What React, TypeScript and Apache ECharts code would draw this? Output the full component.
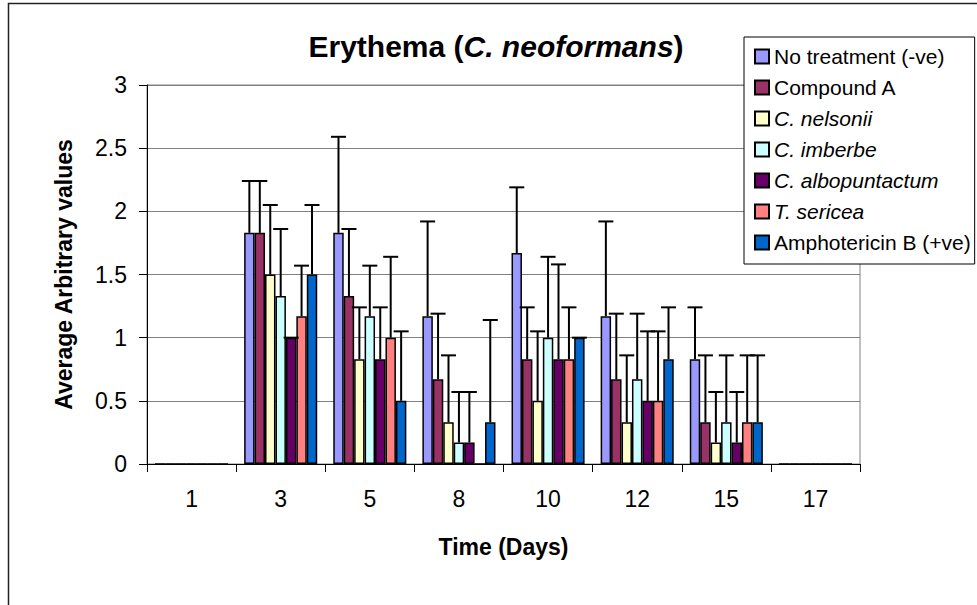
import React, { useEffect, useRef } from "react";
import * as echarts from "echarts";

const days = ["1", "3", "5", "8", "10", "12", "15", "17"];
const seriesNames = [
  "No treatment (-ve)",
  "Compound A",
  "C. nelsonii",
  "C. imberbe",
  "C. albopuntactum",
  "T. sericea",
  "Amphotericin B (+ve)",
];
const italicNames = ["C. nelsonii", "C. imberbe", "C. albopuntactum", "T. sericea"];
const colors = ["#9999FF", "#993366", "#FFFFCC", "#CCFFFF", "#660066", "#FF8080", "#0066CC"];

const noTreatment = [0, 1.83, 1.83, 1.17, 1.67, 1.17, 0.83, 0];
const compoundA = [0, 1.83, 1.33, 0.67, 0.83, 0.67, 0.33, 0];
const nelsonii = [0, 1.5, 0.83, 0.33, 0.5, 0.33, 0.17, 0];
const imberbe = [0, 1.33, 1.17, 0.17, 1.0, 0.67, 0.33, 0];
const albopuntactum = [0, 1.0, 0.83, 0.17, 0.83, 0.5, 0.17, 0];
const sericea = [0, 1.17, 1.0, 0, 0.83, 0.5, 0.33, 0];
const amphotericin = [0, 1.5, 0.5, 0.33, 1.0, 0.83, 0.33, 0];

const errNoTreatment = [null, 0.41, 0.76, 0.75, 0.52, 0.75, 0.41, null];
const errCompoundA = [null, 0.41, 0.53, 0.52, 0.41, 0.52, 0.53, null];
const errNelsonii = [null, 0.55, 0.41, 0.53, 0.55, 0.53, 0.4, null];
const errImberbe = [null, 0.53, 0.4, 0.4, 0.64, 0.52, 0.53, null];
const errAlbopuntactum = [null, 0, 0.41, 0.4, 0.75, 0.55, 0.4, null];
const errSericea = [null, 0.4, 0.64, null, 0.41, 0.55, 0.53, null];
const errAmphotericin = [null, 0.55, 0.55, 0.81, 0, 0.41, 0.53, null];

const yTicks = { min: 0, max: 3, interval: 0.5 };

const allValues = [noTreatment, compoundA, nelsonii, imberbe, albopuntactum, sericea, amphotericin];
const allErrors = [errNoTreatment, errCompoundA, errNelsonii, errImberbe, errAlbopuntactum, errSericea, errAmphotericin];

const FONT = "'Liberation Sans', Arial, sans-serif";
const CAT_GAP = 0.18;

export default function App() {
  const ref = useRef<HTMLDivElement>(null);
  useEffect(() => {
    if (!ref.current) return;
    const chart = echarts.init(ref.current, undefined, { renderer: "svg" });

    const errData: number[][] = [];
    allValues.forEach((vals, k) => {
      vals.forEach((v, i) => {
        const e = allErrors[k][i];
        if (e !== null && e !== undefined) errData.push([i, k, v, e as number]);
      });
    });

    const nSeries = seriesNames.length;

    const option: any = {
      animation: false,
      backgroundColor: "#fff",
      textStyle: { fontFamily: FONT },
      title: {
        text: "{b|Erythema (}{i|C. neoformans}{b|)}",
        left: 491,
        top: 26,
        textAlign: "center",
        textStyle: {
          rich: {
            b: { fontFamily: FONT, fontWeight: "bold", fontSize: 30, color: "#000" },
            i: { fontFamily: FONT, fontWeight: "bold", fontStyle: "italic", fontSize: 30, color: "#000" },
          },
        },
      },
      legend: {
        data: seriesNames,
        orient: "vertical",
        left: 744,
        top: 37,
        padding: [9, 4, 11, 10],
        itemGap: 10,
        itemWidth: 14,
        itemHeight: 14,
        backgroundColor: "#fff",
        borderColor: "#000",
        borderWidth: 1,
        borderRadius: 0,
        icon: "rect",
        formatter: (name: string) => (italicNames.includes(name) ? `{i|${name}}` : `{n|${name}}`),
        textStyle: {
          fontFamily: FONT,
          fontSize: 21,
          color: "#000",
          lineHeight: 21,
          rich: {
            n: { fontFamily: FONT, fontSize: 21, color: "#000", lineHeight: 21 },
            i: { fontFamily: FONT, fontSize: 21, fontStyle: "italic", color: "#000", lineHeight: 21 },
          },
        },
      },
      grid: {
        left: 147,
        top: 85,
        right: 977 - 860,
        bottom: 605 - 464,
        show: true,
        borderColor: "#808080",
        borderWidth: 1,
        backgroundColor: "transparent",
      },
      xAxis: {
        type: "category",
        data: days,
        boundaryGap: true,
        name: "Time (Days)",
        nameLocation: "middle",
        nameGap: 71,
        nameTextStyle: { fontFamily: FONT, fontWeight: "bold", fontSize: 23, color: "#000" },
        axisLine: { show: true, lineStyle: { color: "#000", width: 1 } },
        axisTick: { show: true, length: 8, alignWithLabel: false, lineStyle: { color: "#000" } },
        axisLabel: { fontFamily: FONT, fontSize: 23, color: "#000", margin: 23 },
        splitLine: { show: false },
      },
      yAxis: {
        type: "value",
        min: yTicks.min,
        max: yTicks.max,
        interval: yTicks.interval,
        name: "Average Arbitrary values",
        nameLocation: "middle",
        nameGap: 72,
        nameRotate: 90,
        nameTextStyle: { fontFamily: FONT, fontWeight: "bold", fontSize: 23, color: "#000" },
        axisLine: { show: true, lineStyle: { color: "#000", width: 1 } },
        axisTick: { show: true, length: 8, lineStyle: { color: "#000" } },
        axisLabel: { fontFamily: FONT, fontSize: 23, color: "#000", margin: 20 },
        splitLine: { show: true, lineStyle: { color: "#808080", width: 1 } },
      },
      graphic: [
        {
          type: "rect",
          shape: { x: 8.5, y: 3.5, width: 1000, height: 700 },
          style: { fill: "none", stroke: "#222", lineWidth: 1.5 },
          z: 100,
          silent: true,
        },
      ],
      series: [
        ...seriesNames.map((name, k) => ({
          name,
          type: "bar",
          data: allValues[k],
          barGap: "0%",
          barCategoryGap: `${CAT_GAP * 100}%`,
          itemStyle: { color: colors[k], borderColor: "#000", borderWidth: 1.5 },
          emphasis: { disabled: true },
        })),
        {
          name: "errorbars",
          type: "custom",
          data: errData,
          encode: { x: 0, y: 2 },
          z: 10,
          renderItem: (params: any, api: any) => {
            const cat = api.value(0);
            const k = api.value(1);
            const v = api.value(2);
            const e = api.value(3);
            const band = api.size([1, 0])[0];
            const groupW = band * (1 - CAT_GAP);
            const bw = groupW / nSeries;
            const cx = api.coord([cat, 0])[0] - groupW / 2 + (k + 0.5) * bw;
            const yV = api.coord([cat, v])[1];
            const yT = api.coord([cat, v + e])[1];
            return {
              type: "group",
              children: [
                { type: "line", shape: { x1: cx, y1: yV, x2: cx, y2: yT }, style: { stroke: "#000", lineWidth: 2 } },
                { type: "line", shape: { x1: cx - 7.5, y1: yT, x2: cx + 7.5, y2: yT }, style: { stroke: "#000", lineWidth: 2 } },
              ],
            };
          },
        },
      ],
    };
    chart.setOption(option);
    return () => chart.dispose();
  }, []);
  return (
    <div
      ref={ref}
      style={{ position: "absolute", left: 0, top: 0, width: 977, height: 605, background: "#fff" }}
    />
  );
}
